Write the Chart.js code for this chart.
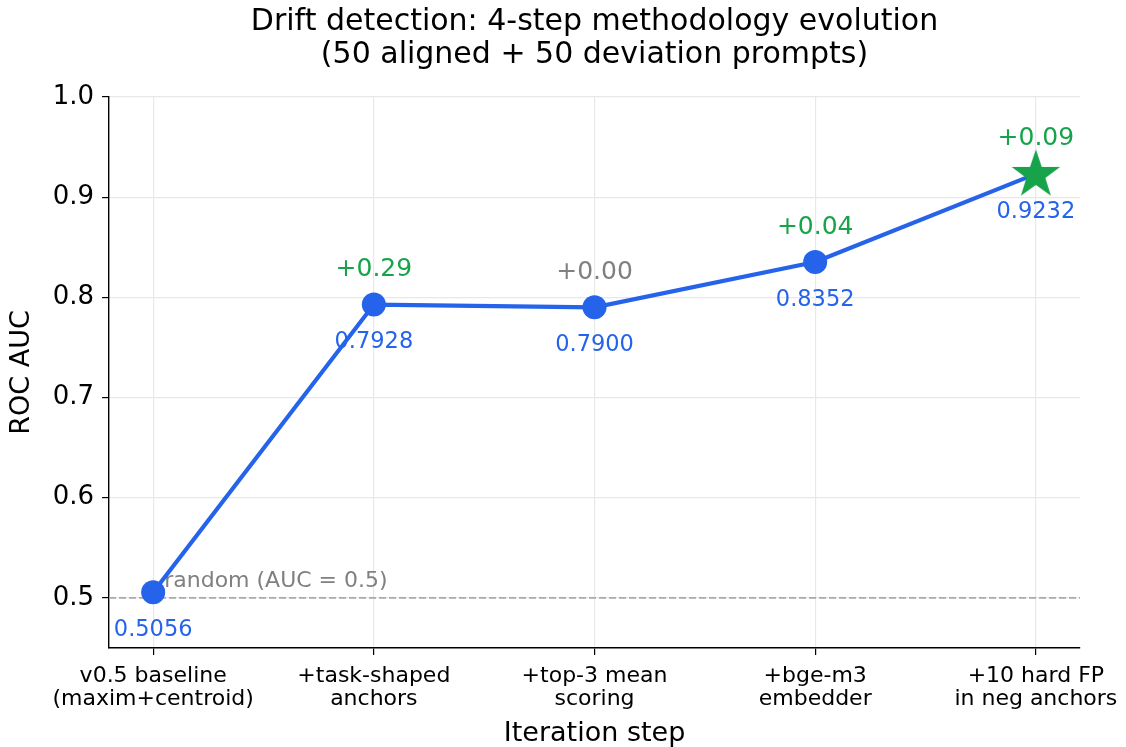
<!DOCTYPE html>
<html>
<head>
<meta charset="utf-8">
<script src="https://cdn.jsdelivr.net/npm/chart.js@4.4.0/dist/chart.umd.min.js"></script>
<style>
html,body{margin:0;padding:0;background:#fff;}
#wrap{width:1126px;height:747px;}
</style>
</head>
<body>
<div id="wrap"><canvas id="c" width="1126" height="747"></canvas></div>
<script>
const steps = [
  ['v0.5 baseline', '(maxim+centroid)'],
  ['+task-shaped', 'anchors'],
  ['+top-3 mean', 'scoring'],
  ['+bge-m3', 'embedder'],
  ['+10 hard FP', 'in neg anchors']
];
const aucValues = [0.5056, 0.7928, 0.7900, 0.8352, 0.9232];
const valueLabels = ['0.5056', '0.7928', '0.7900', '0.8352', '0.9232'];
const deltaLabels = ['', '+0.29', '+0.00', '+0.04', '+0.09'];
const yTicks = [0.5, 0.6, 0.7, 0.8, 0.9, 1.0];
const titleLines = ['Drift detection: 4-step methodology evolution', '(50 aligned + 50 deviation prompts)'];
const randomLevel = 0.5;

const BLUE = '#2563eb';
const GREEN = '#16a34a';
const GRAY = '#808080';
const FONT = "'DejaVu Sans', sans-serif";

// star marker
const star = document.createElement('canvas');
star.width = 56; star.height = 56;
(function(){
  const g = star.getContext('2d');
  const cx = 28, cy = 29, R = 25.5, r = 10;
  g.beginPath();
  for (let i = 0; i < 10; i++) {
    const ang = -Math.PI/2 + i*Math.PI/5;
    const rad = i % 2 === 0 ? R : r;
    const px = cx + rad*Math.cos(ang), py = cy + rad*Math.sin(ang);
    if (i === 0) g.moveTo(px, py); else g.lineTo(px, py);
  }
  g.closePath();
  g.fillStyle = GREEN;
  g.fill();
})();

const pts = aucValues.map((v, i) => ({x: i, y: v}));
const styles = aucValues.map((v, i) => i === aucValues.length - 1 ? star : 'circle');

const annot = {
  id: 'annot',
  beforeDatasetsDraw(chart) {
    const {ctx, scales:{x, y}, chartArea} = chart;
    const py = y.getPixelForValue(randomLevel);
    ctx.save();
    ctx.strokeStyle = '#aaaaaa';
    ctx.lineWidth = 1.8;
    ctx.setLineDash([7, 3]);
    ctx.beginPath();
    ctx.moveTo(chartArea.left, py);
    ctx.lineTo(chartArea.right, py);
    ctx.stroke();
    ctx.setLineDash([]);
    ctx.fillStyle = GRAY;
    ctx.font = '22px ' + FONT;
    ctx.textAlign = 'left';
    ctx.textBaseline = 'middle';
    ctx.fillText('random (AUC = 0.5)', x.getPixelForValue(0.05), py - 17);
    ctx.restore();
  },
  afterDatasetsDraw(chart) {
    const {ctx, scales:{x, y}} = chart;
    ctx.save();
    ctx.textAlign = 'center';
    ctx.textBaseline = 'middle';
    aucValues.forEach((v, i) => {
      const px = x.getPixelForValue(i), py = y.getPixelForValue(v);
      ctx.font = '22.5px ' + FONT;
      ctx.fillStyle = BLUE;
      ctx.fillText(valueLabels[i], px, py + 38);
      if (deltaLabels[i]) {
        const d = v - aucValues[i-1];
        ctx.font = '25px ' + FONT;
        ctx.fillStyle = d > 0.005 ? GREEN : GRAY;
        ctx.fillText(deltaLabels[i], px, py - 35);
      }
    });
    ctx.restore();
  },
  afterDraw(chart) {
    // title centred over the plotting area (space reserved by the title plugin)
    const {ctx, chartArea} = chart;
    ctx.save();
    ctx.fillStyle = '#000';
    ctx.font = '30px ' + FONT;
    ctx.textAlign = 'center';
    ctx.textBaseline = 'middle';
    const cx = (chartArea.left + chartArea.right) / 2;
    titleLines.forEach((t, i) => ctx.fillText(t, cx, 22 + i * 33));
    ctx.restore();
  }
};

new Chart(document.getElementById('c'), {
  type: 'line',
  data: {
    datasets: [{
      data: pts,
      borderColor: BLUE,
      borderWidth: 4.2,
      backgroundColor: BLUE,
      pointBackgroundColor: BLUE,
      pointBorderWidth: 0,
      pointRadius: 12,
      pointStyle: styles,
      tension: 0
    }]
  },
  options: {
    responsive: false,
    animation: false,
    events: [],
    layout: {padding: {left: 7, right: 46, top: 0, bottom: 0}},
    plugins: {
      legend: {display: false},
      tooltip: {enabled: false},
      title: {
        display: true,
        text: titleLines,
        color: 'rgba(0,0,0,0)',
        font: {family: FONT, size: 30, weight: 'normal', lineHeight: 1.1},
        padding: {top: 5, bottom: 26}
      }
    },
    scales: {
      x: {
        type: 'linear',
        min: -0.2,
        max: 4.2,
        afterBuildTicks(axis) { axis.ticks = steps.map((s, i) => ({value: i})); },
        afterFit(axis) { axis.paddingLeft = 0; axis.paddingRight = 0; },
        ticks: {
          color: '#000',
          font: {family: FONT, size: 22, lineHeight: 1.05},
          padding: 10,
          maxRotation: 0,
          autoSkip: false,
          callback: (v) => steps[v]
        },
        grid: {color: '#e8e8e8', lineWidth: 1.2, tickColor: '#000', tickLength: 7, drawTicks: true},
        border: {color: '#000', width: 1.4},
        title: {display: true, text: 'Iteration step', color: '#000', font: {family: FONT, size: 27, lineHeight: 0.96}, padding: {top: 0, bottom: 0}}
      },
      y: {
        type: 'linear',
        min: 0.45,
        max: 1.0,
        afterBuildTicks(axis) { axis.ticks = yTicks.map(v => ({value: v})); },
        ticks: {
          color: '#000',
          font: {family: FONT, size: 26},
          padding: 8,
          callback: (v) => v.toFixed(1)
        },
        grid: {color: '#e8e8e8', lineWidth: 1.2, tickColor: '#000', tickLength: 7},
        border: {color: '#000', width: 1.4},
        title: {display: true, text: 'ROC AUC', color: '#000', font: {family: FONT, size: 27, lineHeight: 1.1}, padding: {top: 0, bottom: 8}}
      }
    }
  },
  plugins: [annot]
});
</script>
</body>
</html>
